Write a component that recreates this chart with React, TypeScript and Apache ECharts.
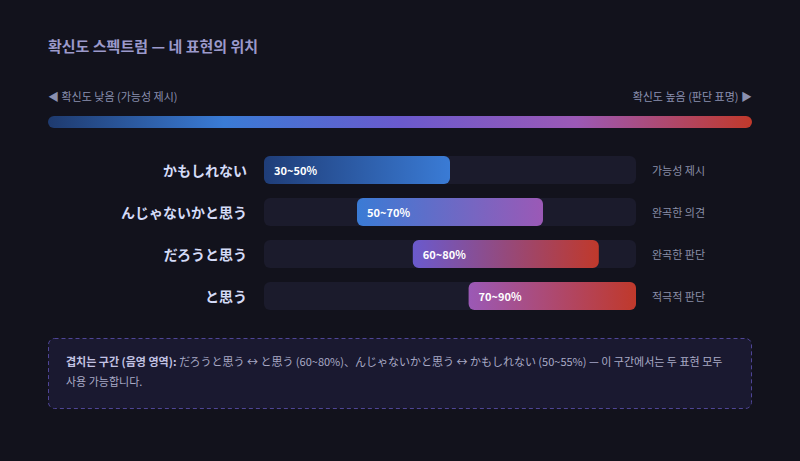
import React, { useEffect, useRef } from "react";
import * as echarts from "echarts";

const expressions = ["かもしれない", "んじゃないかと思う", "だろうと思う", "と思う"];
const rangeLabels = ["30~50%", "50~70%", "60~80%", "70~90%"];
const barStarts = [0, 25, 40, 55];
const barEnds = [50, 75, 90, 100];
const stances = ["가능성 제시", "완곡한 의견", "완곡한 판단", "적극적 판단"];
const barColors: [string, string][] = [
  ["#1f3d78", "#3a7bd5"],
  ["#3a7bd5", "#9b59b6"],
  ["#6a5acd", "#c0392b"],
  ["#9b59b6", "#c0392b"],
];
const spectrumStops = ["#1e3a6e", "#3a7bd5", "#6a5acd", "#9b59b6", "#c0392b"];

const KR = '"Noto Sans CJK KR", "Noto Sans", sans-serif';
const JP = '"Noto Sans CJK JP", "Noto Sans", sans-serif';

export default function App() {
  const ref = useRef<HTMLDivElement>(null);
  useEffect(() => {
    if (!ref.current) return;
    const chart = echarts.init(ref.current, null, { renderer: "svg" });
    const grad = (c: [string, string]) =>
      new echarts.graphic.LinearGradient(0, 0, 1, 0, [
        { offset: 0, color: c[0] },
        { offset: 1, color: c[1] },
      ]);
    chart.setOption({
      animation: false,
      backgroundColor: "#12121c",
      grid: { left: 264, right: 164, top: 149, height: 168 },
      xAxis: { type: "value", min: 0, max: 100, show: false },
      yAxis: [
        {
          type: "category",
          data: expressions,
          inverse: true,
          axisLine: { show: false },
          axisTick: { show: false },
          axisLabel: {
            margin: 17,
            color: "#d4dbf7",
            fontSize: 14,
            fontWeight: "bold",
            fontFamily: JP,
          },
        },
        {
          type: "category",
          data: stances,
          inverse: true,
          position: "right",
          axisLine: { show: false },
          axisTick: { show: false },
          axisLabel: {
            margin: 16,
            color: "#8a8fa8",
            fontSize: 11,
            fontFamily: KR,
          },
        },
      ],
      series: [
        {
          type: "bar",
          name: "track",
          data: expressions.map(() => 100),
          barWidth: 28,
          barGap: "-100%",
          itemStyle: { color: "#1b1b2c", borderRadius: 6 },
          silent: true,
          z: 1,
        },
        {
          type: "bar",
          name: "base",
          stack: "r",
          data: barStarts,
          barWidth: 28,
          itemStyle: { color: "transparent" },
          silent: true,
          z: 2,
        },
        {
          type: "bar",
          name: "range",
          stack: "r",
          barWidth: 28,
          z: 3,
          data: barEnds.map((e, i) => ({
            value: e - barStarts[i],
            itemStyle: { color: grad(barColors[i]), borderRadius: 6 },
            label: { formatter: rangeLabels[i] },
          })),
          label: {
            show: true,
            position: "insideLeft",
            distance: 10,
            color: "#ffffff",
            fontSize: 11,
            fontWeight: "bold",
            fontFamily: KR,
          },
        },
      ],
      graphic: [
        {
          type: "text",
          left: 48,
          top: 38,
          style: {
            text: "확신도 스펙트럼 — 네 표현의 위치",
            fill: "#9c9acb",
            fontSize: 15,
            fontWeight: "bold",
            fontFamily: KR,
          },
        },
        {
          type: "text",
          left: 48,
          top: 90,
          style: {
            text: "◀ 확신도 낮음 (가능성 제시)",
            fill: "#8a90b0",
            fontSize: 11,
            fontFamily: KR,
          },
        },
        {
          type: "text",
          right: 48,
          top: 90,
          style: {
            text: "확신도 높음 (판단 표명) ▶",
            fill: "#8a90b0",
            fontSize: 11,
            fontFamily: KR,
            align: "right",
          },
        },
        {
          type: "rect",
          shape: { x: 48, y: 116, width: 704, height: 12, r: 6 },
          style: {
            fill: new echarts.graphic.LinearGradient(
              0,
              0,
              1,
              0,
              spectrumStops.map((c, i) => ({ offset: i / (spectrumStops.length - 1), color: c }))
            ),
          },
        },
        {
          type: "rect",
          shape: { x: 48.5, y: 338.5, width: 703, height: 70, r: 6 },
          style: {
            fill: "#1a1930",
            stroke: "#4f4596",
            lineWidth: 1,
            lineDash: [4, 3],
          },
        },
        {
          type: "text",
          x: 66,
          y: 351,
          style: {
            text:
              "{b|겹치는 구간 (음영 영역):} {n|だろうと思う ↔ と思う (60~80%)、んじゃないかと思う ↔ かもしれない (50~55%) — 이 구간에서는 두 표현 모두}\n{n|사용 가능합니다.}",
            fontFamily: KR,
            rich: {
              b: { fontSize: 11, fontWeight: "bold", fill: "#c3c3e3", lineHeight: 20, fontFamily: KR },
              n: { fontSize: 11, fill: "#a9aac6", lineHeight: 20, fontFamily: KR },
            },
          },
        },
      ],
    });
    return () => chart.dispose();
  }, []);
  return <div ref={ref} style={{ width: 800, height: 461, position: "absolute", left: 0, top: 0 }} />;
}
